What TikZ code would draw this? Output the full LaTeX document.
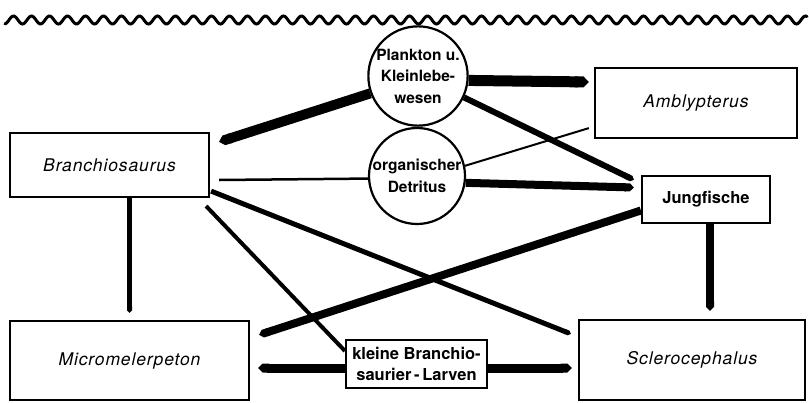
\documentclass[tikz,border=0pt]{standalone}
\usepackage{fontspec}
\setmainfont{TeX Gyre Heros}
\usetikzlibrary{arrows.meta,calc}
\newcommand{\speciesfont}{\fontsize{17.5}{20}\selectfont\itshape\addfontfeatures{LetterSpace=5}}
\newcommand{\labelfont}{\fontsize{15.5}{21.5}\selectfont\bfseries}
\newcommand{\boxlabelfont}{\fontsize{16.5}{21.5}\selectfont\bfseries}
\begin{document}
\begin{tikzpicture}[x=1pt,y=-1pt,
  box/.style={draw,line width=2.2pt,fill=white,inner sep=0pt},
  circ/.style={draw,circle,line width=2.2pt,fill=white,inner sep=0pt,align=center,font=\labelfont},
  feed/.style={line width=#1,-{Triangle Cap}},
  plain/.style={line width=#1}]
\useasboundingbox (0,0) rectangle (809,402);
% wavy water surface
\draw[line width=3pt,line cap=round] plot[domain=5:807,samples=600,smooth] (\x,{20+4*sin(20*\x)});
% nodes
\node[box,minimum width=199pt,minimum height=64pt,font=\speciesfont] (B) at (109.5,165) {Branchiosaurus};
\node[box,minimum width=202pt,minimum height=70pt,font=\speciesfont] (Am) at (696,103) {Amblypterus};
\node[box,minimum width=128pt,minimum height=47pt,font=\boxlabelfont] (J) at (706,199.5) {Jungfische};
\node[box,minimum width=239pt,minimum height=79pt,font=\speciesfont] (M) at (129.5,360.5) {Micromelerpeton};
\node[box,minimum width=141pt,minimum height=48pt,align=center,font=\boxlabelfont] (K) at (416.5,364) {kleine Branchio-\\saurier\,-\,Larven};
\node[box,minimum width=226pt,minimum height=80pt,font=\speciesfont] (S) at (692,360) {Sclerocephalus};
\node[circ,minimum size=94pt] (P) at (418,76) {Plankton u.\\Kleinlebe-\\wesen};
\node[circ,minimum size=96pt] (D) at (417,176) {organischer\\Detritus};
% helper coordinates
\coordinate (js) at ($(J.south)+(4,0)$);
\coordinate (kw) at ($(K.west)+(0,4)$);
\coordinate (ke) at ($(K.east)+(0,4)$);
% connectors
\draw[feed=10pt] (P.200) -- ($(B.north east)+(9,10)$);
\draw[feed=11pt] (P.-5) -- ($(Am.west)+(-5,-21)$);
\draw[feed=6pt] (P.-25) -- ($(J.north west)+(-7,5)$);
\draw[plain=2pt] (D.12) -- ($(Am.south west)+(-5,-11)$);
\draw[feed=8pt] (D.-8) -- ($(J.west)+(-7,-12)$);
\draw[plain=2.5pt] ($(B.east)+(9,15)$) -- (D.183);
\draw[feed=5pt] ($(B.south east)+(1,-7)$) -- ($(S.north west)+(-7,15)$);
\draw[plain=4pt] ($(B.south east)+(-4,8)$) -- ($(K.north west)+(0,12)$);
\draw[feed=5pt,shorten >=7pt] (M.north |- B.south) -- (M.north);
\draw[feed=8pt] ($(J.west)+(0,11)$) -- ($(M.north east)+(9,15)$);
\draw[feed=8pt,shorten >=8pt] (js) -- (js |- S.north);
\draw[feed=9pt,shorten >=8pt] (kw) -- (kw -| M.east);
\draw[feed=9pt,shorten >=6pt] (ke) -- (ke -| S.west);
\end{tikzpicture}
\end{document}
